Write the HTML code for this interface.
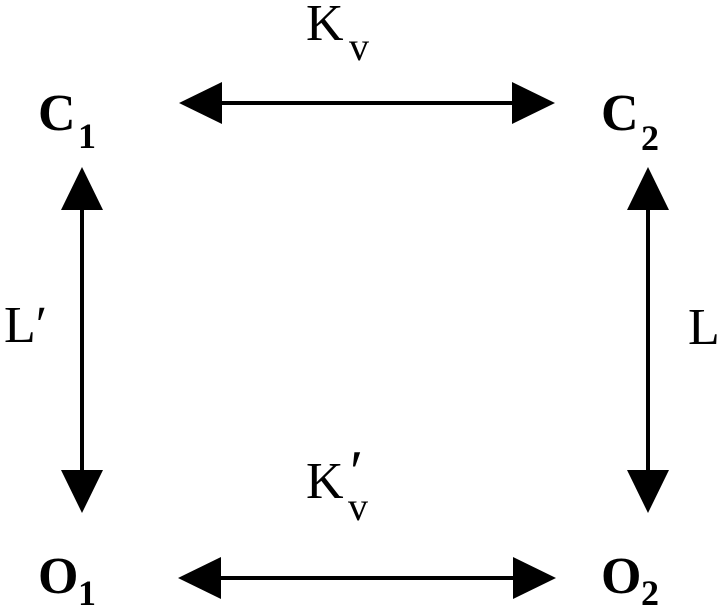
<!DOCTYPE html>
<html><head><style>html,body{margin:0;padding:0;background:#fff}</style></head>
<body>
<svg width="720" height="607" xmlns="http://www.w3.org/2000/svg" font-family="Liberation Serif, serif" fill="#000">
<g stroke="#000" stroke-width="4">
<line x1="215" y1="103" x2="515" y2="103"/>
<line x1="215" y1="578" x2="515" y2="578"/>
<line x1="82" y1="205" x2="82" y2="475"/>
<line x1="648" y1="205" x2="648" y2="475"/>
</g>
<polygon points="179,103 222,82 222,124"/>
<polygon points="555,103 512,82 512,124"/>
<polygon points="178,578 221,557 221,599"/>
<polygon points="556,578 513,557 513,599"/>
<polygon points="82,167 61,210 103,210"/>
<polygon points="82,513 61,470 103,470"/>
<polygon points="648,167 627,210 669,210"/>
<polygon points="648,513 627,470 669,470"/>
<text x="306" y="40" font-size="52">K</text>
<text x="349" y="60" font-size="40">v</text>
<text x="38" y="130" font-size="52" font-weight="bold">C</text>
<text x="78" y="148" font-size="36" font-weight="bold">1</text>
<text x="601" y="130" font-size="52" font-weight="bold">C</text>
<text x="641" y="150" font-size="36" font-weight="bold">2</text>
<text x="4" y="342" font-size="52">L′</text>
<text x="688" y="344" font-size="52">L</text>
<text x="306" y="498" font-size="52">K</text>
<text x="348" y="520" font-size="40">v</text>
<text x="350" y="492" font-size="60">′</text>
<text x="38" y="593" font-size="52" font-weight="bold">O</text>
<text x="78" y="605" font-size="36" font-weight="bold">1</text>
<text x="601" y="593" font-size="52" font-weight="bold">O</text>
<text x="641" y="605" font-size="36" font-weight="bold">2</text>
</svg>
</body></html>
